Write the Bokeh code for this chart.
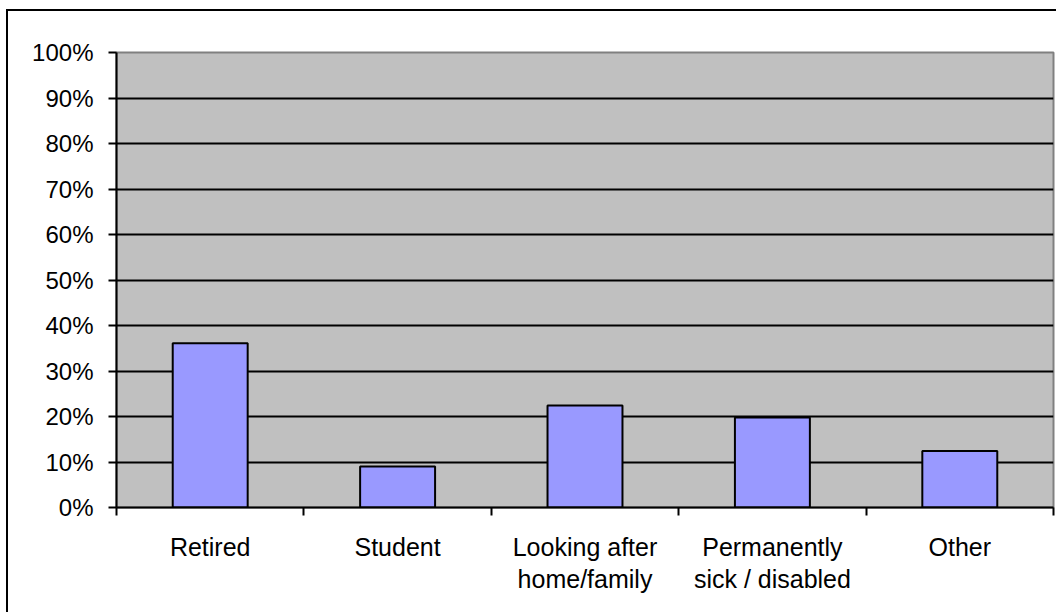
from bokeh.plotting import figure
from bokeh.models import Range1d, FixedTicker, NumeralTickFormatter, ColumnDataSource
from bokeh.embed import file_html
from bokeh.resources import INLINE

categories = ["Retired", "Student", "Looking after\nhome/family", "Permanently\nsick / disabled", "Other"]
values = [0.361, 0.090, 0.224, 0.198, 0.124]
y_ticks = [0.0, 0.1, 0.2, 0.3, 0.4, 0.5, 0.6, 0.7, 0.8, 0.9, 1.0]

n = len(categories)
centers = [i + 0.5 for i in range(n)]
bounds = list(range(n + 1))

src = ColumnDataSource(dict(x=centers, top=values, cat=categories))

p = figure(width=1050, height=603, output_backend="svg", toolbar_location=None,
           x_range=Range1d(0, n), y_range=Range1d(0, 1),
           min_border_left=108, min_border_right=5, min_border_top=41, min_border_bottom=107)
p.styles = {"border-left": "2px solid black", "border-top": "2px solid black",
            "margin-left": "6px", "margin-top": "9px"}
p.background_fill_color = "#C0C0C0"
p.border_fill_color = "white"
p.outline_line_color = "#808080"
p.outline_line_width = 2

p.vbar(x="x", top="top", width=0.4, source=src, fill_color="#9999FF",
       line_color="black", line_width=2)

FONT = "Liberation Sans"

# y axis
p.yaxis.ticker = FixedTicker(ticks=y_ticks)
p.yaxis.formatter = NumeralTickFormatter(format="0%")
p.yaxis.axis_line_color = "black"
p.yaxis.axis_line_width = 2
p.yaxis.major_tick_line_color = "black"
p.yaxis.major_tick_line_width = 2
p.yaxis.major_tick_out = 8
p.yaxis.major_tick_in = 0
p.yaxis.minor_tick_line_color = None
p.yaxis.major_label_text_font = FONT
p.yaxis.major_label_text_font_size = "24px"
p.yaxis.major_label_text_color = "black"
p.yaxis.major_label_standoff = 15

# x axis
p.xaxis.ticker = FixedTicker(ticks=centers, minor_ticks=bounds)
p.xaxis.major_label_overrides = {c: lab for c, lab in zip(centers, categories)}
p.xaxis.axis_line_color = "black"
p.xaxis.axis_line_width = 2
p.xaxis.major_tick_line_color = None
p.xaxis.major_tick_out = 0
p.xaxis.major_tick_in = 0
p.xaxis.minor_tick_line_color = "black"
p.xaxis.minor_tick_line_width = 2
p.xaxis.minor_tick_out = 8
p.xaxis.minor_tick_in = 0
p.xaxis.major_label_text_font = FONT
p.xaxis.major_label_text_font_size = "25px"
p.xaxis.major_label_text_color = "black"
p.xaxis.major_label_standoff = 17
p.xaxis.major_label_text_line_height = 1.17

# grid
p.xgrid.grid_line_color = None
p.ygrid.ticker = FixedTicker(ticks=y_ticks[1:-1])
p.ygrid.grid_line_color = "black"
p.ygrid.grid_line_width = 2
p.ygrid.grid_line_alpha = 1.0

open("out.html", "w").write(file_html(p, INLINE))
